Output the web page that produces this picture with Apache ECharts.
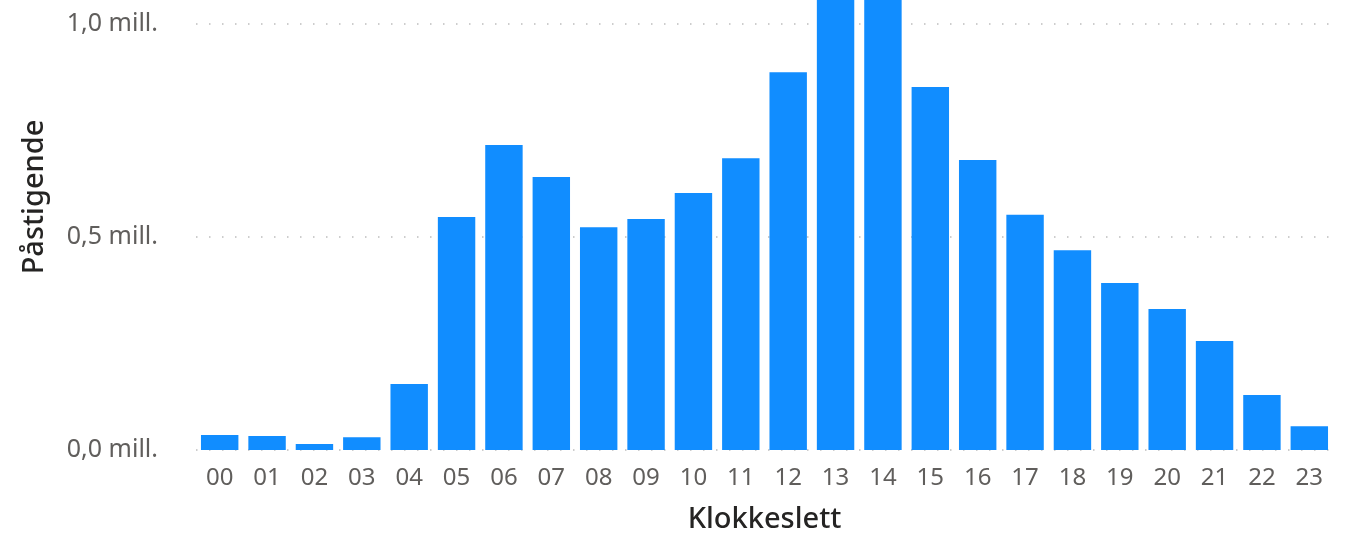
<!DOCTYPE html>
<html>
<head>
<meta charset="utf-8">
<script src="https://cdn.jsdelivr.net/npm/echarts@6/dist/echarts.min.js"></script>
<style>
	html, body { margin: 0; padding: 0; background: #fff; }
	#chart { width: 1352px; height: 535px; }
</style>
</head>
<body>
<div id="chart"></div>
<script>
	// klokkeslett (time på døgnet)
	const hours = ['00', '01', '02', '03', '04', '05', '06', '07', '08', '09', '10', '11',
		'12', '13', '14', '15', '16', '17', '18', '19', '20', '21', '22', '23'];
	// påstigende, i millioner
	const boardings = [0.035, 0.033, 0.014, 0.030, 0.155, 0.547, 0.716, 0.641, 0.523, 0.542, 0.603, 0.685,
		0.887, 1.08, 1.07, 0.852, 0.681, 0.552, 0.469, 0.392, 0.331, 0.256, 0.129, 0.056];
	const yTicks = [0, 0.5, 1.0, 1.5];

	const chart = echarts.init(document.getElementById('chart'));
	const labelFont = '"Noto Sans", "DejaVu Sans", sans-serif';

	chart.setOption({
		animation: false,
		grid: {
			left: 196,
			right: 19,
			top: -189,
			bottom: 85,
			containLabel: false,
			outerBoundsMode: 'none'
		},
		xAxis: {
			type: 'category',
			data: hours,
			axisLine: { show: false },
			axisTick: { show: false },
			axisLabel: {
				color: '#605E5C',
				fontSize: 24,
				fontFamily: labelFont,
				margin: 16
			},
			name: 'Klokkeslett',
			nameLocation: 'middle',
			nameGap: 55,
			nameTextStyle: {
				color: '#252423',
				fontSize: 29,
				fontWeight: 500,
				fontFamily: labelFont
			}
		},
		yAxis: {
			type: 'value',
			min: yTicks[0],
			max: yTicks[yTicks.length - 1],
			interval: 0.5,
			axisLine: { show: false },
			axisTick: { show: false },
			axisLabel: {
				color: '#605E5C',
				fontSize: 25,
				fontFamily: labelFont,
				margin: 38,
				formatter: v => v.toFixed(1).replace('.', ',') + ' mill.'
			},
			splitLine: {
				show: true,
				lineStyle: {
					color: '#bdbdbd',
					width: 1.5,
					type: [1.5, 11.5]
				}
			}
		},
		graphic: [
			{
				type: 'text',
				x: 35,
				y: 197,
				rotation: Math.PI / 2,
				style: {
					text: 'Påstigende',
					fill: '#252423',
					font: '500 29px ' + labelFont,
					textAlign: 'center',
					textVerticalAlign: 'middle'
				}
			}
		],
		series: [
			{
				type: 'bar',
				data: boardings,
				barCategoryGap: '21%',
				itemStyle: { color: '#118DFF' }
			}
		]
	});
</script>
</body>
</html>
